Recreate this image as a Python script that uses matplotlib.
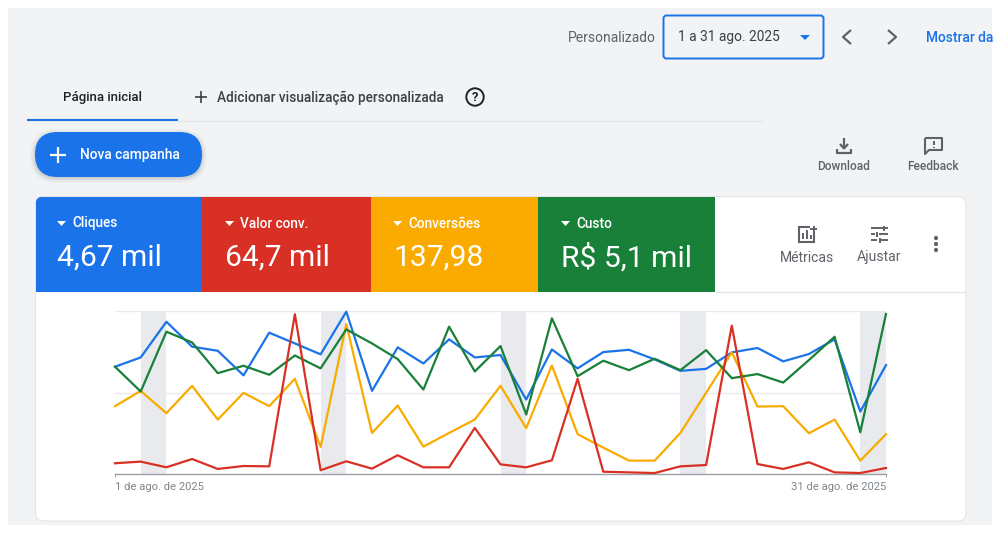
import matplotlib
matplotlib.use("Agg")
import matplotlib.pyplot as plt
from matplotlib.patches import FancyBboxPatch, Rectangle, Circle, Polygon

plt.rcParams["font.family"] = ["Roboto", "DejaVu Sans"]

# ---------------------------------------------------------------------------
# Daily series, each as a percentage of its own scale
# ---------------------------------------------------------------------------
days = list(range(1, 32))
cliques = [65.8, 71.5, 93.4, 78.1, 75.6, 60.5, 86.7, 80.1, 73.4, 99.6, 51.0,
           77.7, 67.8, 82.6, 71.5, 73.0, 45.7, 76.4, 64.8, 74.8, 76.2, 70.3,
           63.3, 64.5, 74.6, 77.3, 69.1, 73.6, 82.6, 38.3, 66.8]
valor_conv = [6.6, 7.6, 4.1, 9.2, 3.1, 4.9, 4.7, 98.0, 2.3, 7.8, 3.3,
              11.5, 4.1, 4.1, 28.3, 5.9, 4.1, 8.4, 58.4, 1.4, 1.0, 0.6,
              4.7, 5.5, 91.0, 6.1, 3.1, 7.2, 1.0, 0.6, 3.7]
conversoes = [41.6, 51.0, 37.3, 54.1, 33.4, 49.8, 41.6, 58.4, 16.6, 92.0, 25.2,
              42.0, 16.8, 25.2, 33.4, 54.1, 28.1, 66.6, 24.4, 16.2, 8.2, 8.2,
              25.2, 49.8, 74.6, 41.4, 41.6, 25.0, 33.4, 8.2, 24.4]
custo = [65.8, 50.6, 87.3, 80.7, 61.9, 66.4, 60.9, 72.7, 64.8, 88.7, 80.1,
         70.5, 51.8, 90.4, 62.9, 78.5, 36.5, 95.5, 60.0, 69.5, 63.7, 70.7,
         63.7, 76.0, 58.8, 61.3, 56.1, 69.9, 84.2, 25.6, 98.2]

weekends = [(2, 3), (9, 10), (16, 17), (23, 24), (30, 31)]
y_grid = [50, 100]
x_ticks = [1, 31]
x_tick_labels = ["1 de ago. de 2025", "31 de ago. de 2025"]

metric_names = ["Cliques", "Valor conv.", "Conversões", "Custo"]
metric_totals = ["4,67 mil", "64,7 mil", "137,98", "R$ 5,1 mil"]

BLUE = "#1a73e8"
RED = "#d93025"
YELLOW = "#f9ab00"
GREEN = "#188038"
PAGE = "#f1f3f4"
GREY = "#5f6368"
DARK = "#3c4043"

fig = plt.figure(figsize=(10, 5.33), dpi=100, facecolor="white")

# page layer, one data unit = one pixel
ui = fig.add_axes([0, 0, 1, 1])
ui.set_xlim(0, 1000)
ui.set_ylim(533, 0)
ui.axis("off")


def rounded(x0, y0, x1, y1, r, **kw):
    p = FancyBboxPatch((x0, y0), x1 - x0, y1 - y0,
                       boxstyle=f"round,pad=0,rounding_size={r}", **kw)
    ui.add_patch(p)
    return p


def stroke(xs, ys, color=GREY, lw=1.4, **kw):
    ui.plot(xs, ys, color=color, lw=lw, solid_capstyle="butt", **kw)


ui.add_patch(Rectangle((8, 8), 984, 517, fc=PAGE, ec="none"))

# ---------------------------------------------------------------------------
# Date picker row
# ---------------------------------------------------------------------------
ui.text(568, 37.5, "Personalizado", fontsize=10.0, color=GREY, va="center")
rounded(663.5, 15.5, 823.5, 58.5, 3, fc=PAGE, ec=BLUE, lw=1.4)
ui.text(678, 37.5, "1 a 31 ago. 2025", fontsize=9.9, color=DARK, va="center")
ui.add_patch(Polygon([(800, 35), (810, 35), (805, 40)], fc=BLUE, ec="none"))
stroke([851, 843, 851], [30, 37, 44], color=GREY, lw=1.6)
stroke([888, 896, 888], [30, 37, 44], color=GREY, lw=1.6)
ui.text(926, 37.5, "Mostrar da", fontsize=9.9, color=BLUE, va="center",
        weight="medium")

# ---------------------------------------------------------------------------
# Tabs
# ---------------------------------------------------------------------------
ui.text(63, 97.5, "Página inicial", fontsize=9.5, color="#202124", va="center",
        weight="medium")
stroke([178, 764], [120.5, 120.5], color="#e3e5e8", lw=0.9)
stroke([27, 178], [120, 120], color=BLUE, lw=1.5)
stroke([195, 207], [97, 97], color=DARK, lw=1.2)
stroke([201, 201], [91, 103], color=DARK, lw=1.2)
ui.text(217, 97.5, "Adicionar visualização personalizada", fontsize=9.8,
        color=DARK, va="center", weight="medium")
ui.add_patch(Circle((475, 97), 8.7, fc="none", ec="#202124", lw=1.4))
ui.text(475, 97.3, "?", fontsize=9.4, color="#202124", ha="center", va="center",
        weight="bold")

# ---------------------------------------------------------------------------
# New campaign button with a soft shadow
# ---------------------------------------------------------------------------
for grow, alpha in zip([5, 3.5, 2, 1], [0.03, 0.04, 0.05, 0.07]):
    rounded(35 - grow, 134 - grow, 202 + grow, 178 + grow, 22 + grow,
            fc="#3c4043", ec="none", alpha=alpha)
rounded(35, 132, 202, 177, 22.5, fc=BLUE, ec="none")
stroke([49.5, 65.5], [155, 155], color="white", lw=1.6)
stroke([57.5, 57.5], [147, 163], color="white", lw=1.6)
ui.text(80, 155, "Nova campanha", fontsize=9.9, color="white", va="center",
        weight="medium")

# ---------------------------------------------------------------------------
# Download and feedback actions
# ---------------------------------------------------------------------------
stroke([844, 844], [138, 148], lw=1.6)
stroke([840, 844, 848], [144, 148.5, 144], lw=1.6)
stroke([837, 837, 851, 851], [149, 153, 153, 149], lw=1.6)
ui.text(844, 166.5, "Download", fontsize=8.6, color=GREY, ha="center", va="center",
        weight="medium")
stroke([925, 942, 942, 929, 925, 925], [138, 138, 150, 150, 154, 138], lw=1.5)
stroke([933.5, 933.5], [141, 145], lw=1.4)
stroke([933.5, 933.5], [146.5, 148], lw=1.4)
ui.text(933, 166.5, "Feedback", fontsize=8.6, color=GREY, ha="center", va="center",
        weight="medium")

# ---------------------------------------------------------------------------
# Card and metric tiles
# ---------------------------------------------------------------------------
card = rounded(35.5, 196.5, 966, 521, 8, fc="white", ec="#e3e5e8", lw=0.8)

tile_edges = [36, 202, 371, 538, 715]
tile_text_x = [57, 225, 393, 561]
tile_colors = [BLUE, RED, "#fbab00", GREEN]
for i, name in enumerate(metric_names):
    x0 = tile_edges[i]
    tile = Rectangle((x0, 196.5), tile_edges[i + 1] - x0, 95,
                     fc=tile_colors[i], ec="none")
    ui.add_patch(tile)
    tile.set_clip_path(card)
    tx = tile_text_x[i]
    ui.add_patch(Polygon([(tx, 221), (tx + 9, 221), (tx + 4.5, 226)],
                         fc="white", ec="none"))
    ui.text(tx + 15, 223.5, name, fontsize=9.8, color="white", va="center",
            weight="medium")
    ui.text(tx, 258, metric_totals[i], fontsize=21.6, color="white", va="center")
stroke([715, 966], [291.5, 291.5], color="#e3e5e8", lw=0.9)

# metric and adjust icons
ui.add_patch(Rectangle((799, 227), 15, 15, fc="none", ec=GREY, lw=1.5))
stroke([803, 803], [233, 239], lw=1.4)
stroke([807, 807], [230, 239], lw=1.4)
stroke([811, 811], [235, 239], lw=1.4)
ui.add_patch(Rectangle((810, 224), 9, 9, fc="white", ec="none"))
stroke([810, 817], [229, 229], lw=1.4)
stroke([813.5, 813.5], [225.5, 232.5], lw=1.4)
ui.text(807, 257.5, "Métricas", fontsize=10.1, color=GREY, ha="center", va="center")
stroke([871, 883], [228, 228], lw=1.4)
stroke([885, 888], [228, 228], lw=1.4)
stroke([871, 875], [234, 234], lw=1.4)
stroke([879, 888], [234, 234], lw=1.4)
stroke([871, 877], [240, 240], lw=1.4)
stroke([881, 888], [240, 240], lw=1.4)
stroke([883.5, 883.5], [226, 230.5], lw=1.4)
stroke([876.5, 876.5], [231.5, 236.5], lw=1.4)
stroke([879.5, 879.5], [237.5, 242.5], lw=1.4)
ui.text(879, 257.5, "Ajustar", fontsize=10.1, color=GREY, ha="center", va="center")
for dot_y in [238, 244, 250]:
    ui.add_patch(Circle((936, dot_y), 2.1, fc=GREY, ec="none"))

# ---------------------------------------------------------------------------
# Line chart
# ---------------------------------------------------------------------------
ax = fig.add_axes([115 / 1000, 1 - 474 / 533, (886 - 115) / 1000, (474 - 311) / 533])
ax.patch.set_alpha(0)
ax.set_xlim(1, 31)
ax.set_ylim(0, 100)

for start, end in weekends:
    ax.axvspan(start, end, color="#e8eaed", lw=0, zorder=1)
for level in y_grid:
    ax.axhline(level, color="#e8eaed", lw=1.0, zorder=1.5)

ax.plot(days, cliques, color=BLUE, lw=1.6, zorder=3, clip_on=False)
ax.plot(days, conversoes, color=YELLOW, lw=1.6, zorder=3.1, clip_on=False)
ax.plot(days, custo, color=GREEN, lw=1.6, zorder=3.2, clip_on=False)
ax.plot(days, valor_conv, color=RED, lw=1.6, zorder=3.3, clip_on=False)

for side in ["top", "left", "right"]:
    ax.spines[side].set_visible(False)
ax.spines["bottom"].set_color("#9aa0a6")
ax.spines["bottom"].set_linewidth(1.0)
ax.set_yticks([])
ax.set_xticks(x_ticks)
ax.set_xticklabels(x_tick_labels, fontsize=8.1, color="#80868b")
ax.tick_params(axis="x", direction="out", length=2, width=0.7, color="#9aa0a6", pad=3.5)
labels = ax.get_xticklabels()
labels[0].set_ha("left")
labels[1].set_ha("right")

fig.savefig("out.png", dpi=100, facecolor="white")
